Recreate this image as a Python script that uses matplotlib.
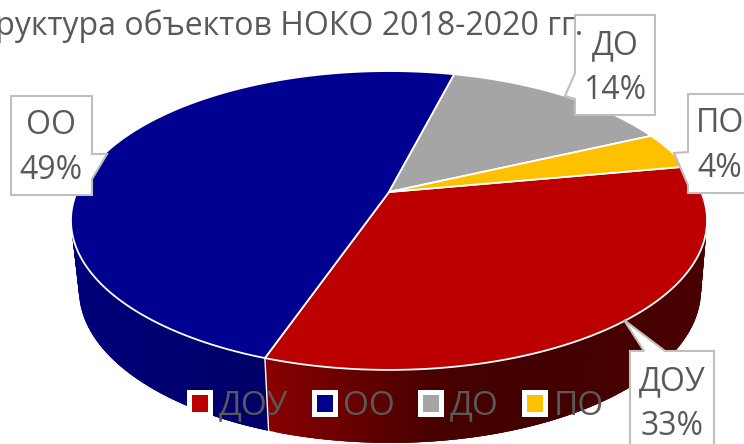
import numpy as np
import matplotlib
matplotlib.use("Agg")
import matplotlib.pyplot as plt
from matplotlib.patches import Polygon, Patch
from matplotlib.path import Path
from matplotlib.transforms import Transform, Affine2D

categories = ["ДОУ", "ОО", "ДО", "ПО"]
values = [33.2, 48.7, 14.1, 4.0]
colors = ["#BC0000", "#000090", "#A5A5A5", "#FFC000"]
title = "Структура объектов НОКО 2018-2020 гг."
GRAY = "#595959"
START = 10.5

plt.rcParams["font.family"] = ["Open Sans", "DejaVu Sans"]

# perspective of the 3D pie, in pixels
AX, AY = 389.0, 192.0      # apex of the slices
K, A, C = 0.1906, 144.0, 312.2
TOP = (389.0, 220.5, 318.0, 149.5)    # rim ellipse cx, cy, rx, ry
BOT = (390.0, 290.0, 311.0, 153.0)    # base ellipse


def project(xy):
    xy = np.asarray(xy, float)
    d = 1 + K * xy[..., 1]
    return np.stack([AX + C * xy[..., 0] / d, AY - A * xy[..., 1] / d], axis=-1)


class Perspective(Transform):
    input_dims = output_dims = 2

    def transform_non_affine(self, values):
        return project(values)

    def transform_path_non_affine(self, path):
        scale = Affine2D().scale(2000)
        polys = path.to_polygons(transform=scale, closed_only=True)
        return Path(project(polys[0] / 2000.0), closed=True)


fig = plt.figure(figsize=(7.44, 4.44), dpi=100)
ax = fig.add_axes([0, 0, 1, 1])

wedges, _ = ax.pie(values, colors=colors, startangle=START, counterclock=False,
                   wedgeprops=dict(edgecolor="white", linewidth=1.3), frame=True)
persp = Perspective()
for w in wedges:
    w.set_transform(persp + ax.transData)
    w.set_zorder(3)

ax.set_aspect("auto")
ax.set_xlim(0, 744)
ax.set_ylim(444, 0)
ax.axis("off")


def shade(cosphi):
    return np.interp(cosphi, [-1, -0.37, -0.12, 0.13, 0.41, 1],
                     [0.84, 0.72, 0.55, 0.39, 0.35, 0.39])


def rim_to_base(p):
    c = (p[0] - TOP[0]) / TOP[2]
    s = (TOP[1] - p[1]) / TOP[3]
    return c, s, np.array([BOT[0] + BOT[2] * c, BOT[1] - BOT[3] * s])


for w, col in zip(wedges, colors):
    base = np.array(matplotlib.colors.to_rgb(col))
    th1, th2 = w.theta1, w.theta2
    angles = np.arange(th1, th2, 1.0).tolist() + [th2]
    pts = [project([np.cos(np.radians(t)), np.sin(np.radians(t))]) for t in angles]
    # strips overlap the next one so no antialiased gaps show between them
    for i in range(len(pts) - 1):
        p, q = pts[i], pts[min(i + 3, len(pts) - 1)]
        c1, s1, p2 = rim_to_base(p)
        c2, s2, q2 = rim_to_base(q)
        if s1 > 0.02 and s2 > 0.02:
            continue
        fc = base * shade((c1 + rim_to_base(pts[i + 1])[0]) / 2)
        ax.add_patch(Polygon([p, q, q2, p2], closed=True, facecolor=fc, edgecolor="none",
                             zorder=2 + i * 1e-4))

# white seam between the two front slices on the wall
seam = values[0] / sum(values) * 360
ang = np.radians(START - seam)
p = project([np.cos(ang), np.sin(ang)])
b = rim_to_base(p)[2]
ax.plot([p[0], b[0]], [p[1], b[1]], color="white", lw=1.0, zorder=2.5)

# callout data labels
callouts = [
    ("ОО\n49%", (51, 148), [(11, 96), (92, 96), (92, 154), (107, 154), (92, 179), (92, 195), (11, 195)]),
    ("ДО\n14%", (615, 68), [(575, 15), (655, 15), (655, 115), (575, 115), (575, 99), (565, 96), (575, 73)]),
    ("ПО\n4%", (720, 146), [(688, 94), (760, 94), (760, 193), (688, 193), (688, 185), (674, 153), (688, 152)]),
    ("ДОУ\n33%", (672, 404), [(644, 351), (624, 320), (665, 351), (714, 351), (714, 460), (630, 460), (630, 351)]),
]
for txt, (tx, ty), verts in callouts:
    ax.add_patch(Polygon(verts, closed=True, facecolor="white", edgecolor="#BFBFBF",
                         linewidth=1.5, zorder=6))
    ax.text(tx, ty, txt, ha="center", va="center", fontsize=23, color=GRAY,
            linespacing=1.5, zorder=7)

# title, clipped at the left edge as in the reference and lying over the ДО box
ax.text(583, 35, title, ha="right", va="baseline", fontsize=23, color=GRAY, zorder=9, clip_on=True)

# legend
handles = [Patch(facecolor=c, edgecolor="white", linewidth=3.6, joinstyle="round", label=n)
           for c, n in zip(colors, categories)]
leg = ax.legend(handles=handles, ncol=4, loc="center", bbox_to_anchor=(396.5, 406),
                bbox_transform=ax.transData, frameon=False, fontsize=24,
                labelcolor=GRAY, handlelength=0.63, handleheight=0.63,
                handletextpad=0.25, columnspacing=0.77, borderpad=0, labelspacing=0)
leg.set_zorder(8)

fig.savefig("out.png", dpi=100)
